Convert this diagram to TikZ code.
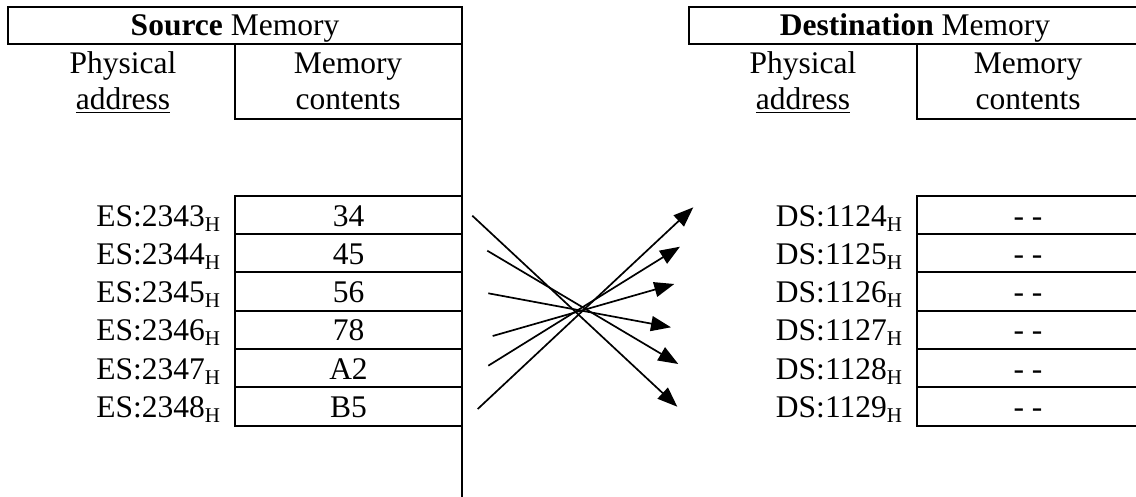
\documentclass[tikz,border=0pt]{standalone}
\usepackage{fontspec}
\setmainfont{Liberation Serif}
\usetikzlibrary{arrows.meta}
\newcommand{\subH}{\raisebox{-5pt}{\fontsize{21}{21}\selectfont H}}
\begin{document}
\begin{tikzpicture}[x=1pt,y=-1pt,
  every node/.style={inner sep=0pt, outer sep=0pt, font=\fontsize{31.5}{36}\selectfont},
  box/.style={line width=2pt},
  header/.style={draw, line width=2pt, minimum height=37pt, text height=21pt, text depth=0pt},
  cell/.style={draw, line width=2pt, minimum width=#1, minimum height=38.3pt, text height=22.5pt, text depth=0pt},
  addr/.style={anchor=base east},
  colhead/.style={anchor=base, align=center},
  mv/.style={line width=1.7pt, -{Triangle[length=20pt,width=15pt]}}
]
\useasboundingbox (0,0) rectangle (1136,497);

% headers
\node[header, minimum width=454pt] (lhead) at (235,25.5) {\textbf{Source} Memory};
\node[header, minimum width=452pt] (rhead) at (915,25.5) {\textbf{Destination} Memory};

% divider line
\coordinate (vbot) at (462,497);
\draw[box] (lhead.north east) -- (vbot);

% column headers
\node[colhead] (lpa1) at (123,74) {Physical};
\node[colhead] (lpa2) at (123,110) {\underline{address}};
\node[colhead] (lmc1) at (348,74) {Memory};
\node[colhead] (lmc2) at (348,110) {contents};
\draw[box] (235,44) -- (235,119) -- (462,119);

\node[colhead] (rpa1) at (803,74) {Physical};
\node[colhead] (rpa2) at (803,110) {\underline{address}};
\node[colhead] (rmc1) at (1028,74) {Memory};
\node[colhead] (rmc2) at (1028,110) {contents};
\draw[box] (917,44) -- (917,119) -- (1145,119);

% source rows
\foreach \i/\a/\v in {0/2343/34,1/2344/45,2/2345/56,3/2346/78,4/2347/A2,5/2348/B5}{
  \node[cell=227pt] (sc\i) at (348.5,{214.85+38.3*\i}) {\v};
  \node[addr] (sa\i) at (220,{226.1+38.3*\i}) {ES:\a\subH};
}
% destination rows
\foreach \i/\a in {0/1124,1/1125,2/1126,3/1127,4/1128,5/1129}{
  \node[cell=222pt] (dc\i) at (1028,{214.85+38.3*\i}) {-\ -};
  \node[addr] (da\i) at (902,{226.1+38.3*\i}) {DS:\a\subH};
}

% arrows
\coordinate (s1) at (472.3,215.7); \coordinate (t1) at (677.3,406.7);
\coordinate (s2) at (487.3,250.7); \coordinate (t2) at (678.3,364);
\coordinate (s3) at (488.3,293.3); \coordinate (t3) at (671,327.3);
\coordinate (s4) at (492.7,336);   \coordinate (t4) at (674.3,284);
\coordinate (s5) at (488.3,365.7); \coordinate (t5) at (680,246.7);
\coordinate (s6) at (477.7,409);   \coordinate (t6) at (693.3,207.3);
\foreach \k in {1,...,6}{ \draw[mv] (s\k) -- (t\k); }
\end{tikzpicture}
\end{document}
